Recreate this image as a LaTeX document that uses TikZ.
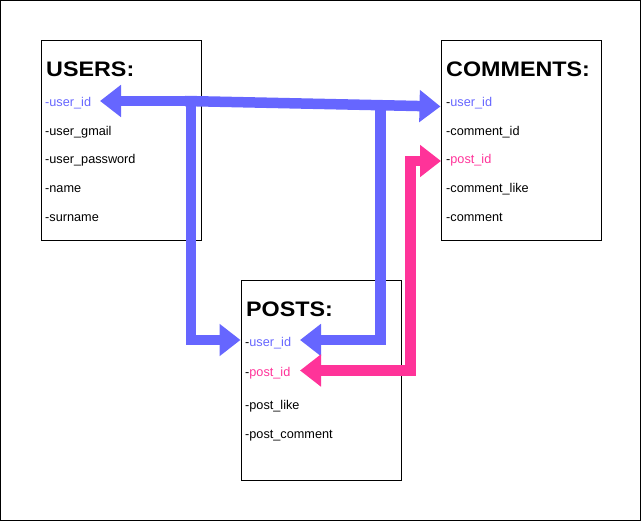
\documentclass[tikz,border=0pt]{standalone}
\usepackage{fontspec}
\setmainfont{Liberation Sans}
\newfontfamily\titlefont{Liberation Sans}[FakeStretch=1.11]
\usetikzlibrary{arrows.meta}
\definecolor{fkblue}{HTML}{6666FF}
\definecolor{fkpink}{HTML}{FF3399}
\tikzset{
  table/.style={draw=black, line width=1pt, minimum width=160pt, minimum height=200pt, inner sep=0pt, anchor=north west},
  title/.style={anchor=base west, inner sep=0pt, font=\titlefont\fontsize{21}{25}\selectfont\bfseries},
  field/.style={anchor=base west, inner sep=0pt, font=\fontsize{12.7}{15}\selectfont},
  fat/.style={line width=10.5pt, line join=miter, line cap=butt},
  bluearrow/.style={fat, draw=fkblue, fill=none},
  pinkarrow/.style={fat, draw=fkpink, fill=none},
  fkhead/.tip={Triangle[width=31pt, length=21pt]},
}
\begin{document}
\begin{tikzpicture}[x=1pt, y=-1pt]
\useasboundingbox (0,0) rectangle (641,521);
\draw[line width=1pt] (0.5,0.5) rectangle (640.5,520.5);

% tables
\node[table] (users) at (40.5,40.5) {};
\node[table] (comments) at (440.5,40.5) {};
\node[table] (posts) at (240.5,280.5) {};

% USERS
\node[title] (usersT) at (46,76.7) {USERS:};
\node[field, text=fkblue] (uUid) at (45,106.5) {-user\_id};
\node[field] (uGm) at (45,135.5) {-user\_gmail};
\node[field] (uPw) at (45,164) {-user\_password};
\node[field] (uNm) at (45,193) {-name};
\node[field] (uSn) at (45,221.5) {-surname};

% COMMENTS
\node[title] (commT) at (446,76.7) {COMMENTS:};
\node[field] (cUid) at (446,106.5) {-\textcolor{fkblue}{user\_id}};
\node[field] (cCid) at (446,135.5) {-comment\_id};
\node[field] (cPid) at (446,164) {-\textcolor{fkpink}{post\_id}};
\node[field] (cLk) at (446,193) {-comment\_like};
\node[field] (cCm) at (446,221.5) {-comment};

% POSTS
\node[title] (postsT) at (246,316.7) {POSTS:};
\node[field] (pUid) at (245,347) {-\textcolor{fkblue}{user\_id}};
\node[field] (pPid) at (245,376.5) {-\textcolor{fkpink}{post\_id}};
\node[field] (pLk) at (245,410) {-post\_like};
\node[field] (pCm) at (245,438.5) {-post\_comment};

% connector end points
\coordinate (uUidTip) at (100,101);
\coordinate (pUidTipL) at (240.5,340);
\coordinate (pUidTipR) at (300,340);
\coordinate (cUidTip) at (440.5,106.5);
\coordinate (cPidTip) at (441,161);
\coordinate (pPidTip) at (300,370.5);
\coordinate (jLeft) at (191,101);
\coordinate (jRight) at (380.5,104);

% blue connectors
\draw[bluearrow, fkhead-fkhead] (uUidTip) -- (jLeft) -- (191,340) -- (pUidTipL);
\draw[bluearrow, -fkhead] (185,101) -- (cUidTip);
\draw[bluearrow, -fkhead] (jRight) -- (380.5,340) -- (pUidTipR);

% pink connector
\draw[pinkarrow, fkhead-fkhead] (cPidTip) -- (410.5,161) -- (410.5,370.5) -- (pPidTip);
\end{tikzpicture}
\end{document}
